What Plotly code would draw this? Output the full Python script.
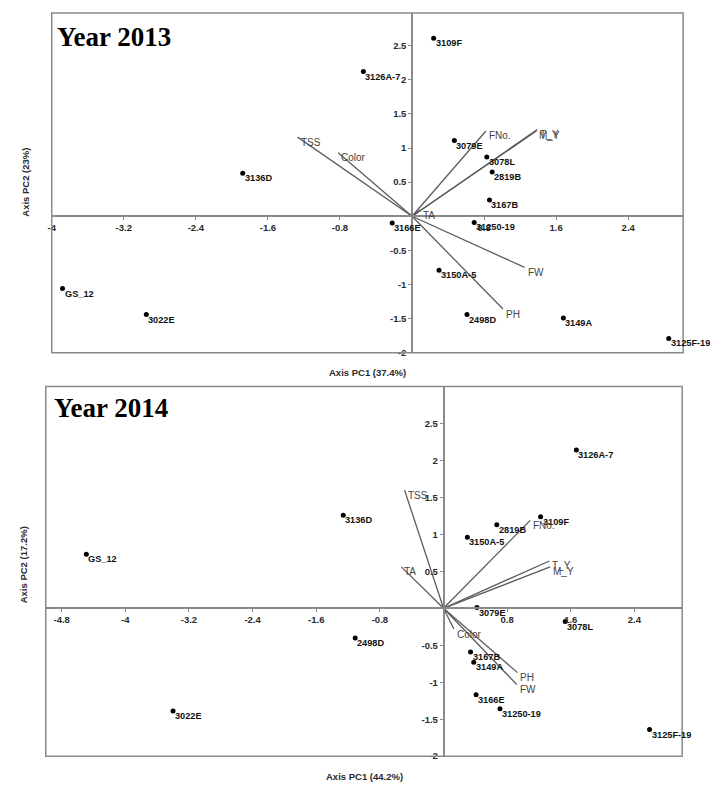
import plotly.graph_objects as go

# ---- 2013 PCA biplot data ----
samples_2013 = ["3109F", "3126A-7", "3079E", "3078L", "2819B", "3167B", "3136D", "3166E",
                "31250-19", "3150A-5", "2498D", "3149A", "3125F-19", "GS_12", "3022E"]
pc1_2013 = [0.24, -0.54, 0.47, 0.83, 0.89, 0.86, -1.88, -0.22, 0.69, 0.30, 0.61, 1.68, 2.85, -3.88, -2.95]
pc2_2013 = [2.61, 2.12, 1.11, 0.87, 0.65, 0.24, 0.63, -0.10, -0.09, -0.79, -1.44, -1.49, -1.79, -1.06, -1.44]

traits_2013 = ["TSS", "Color", "FNo.", "T_Y", "M_Y", "TA", "FW", "PH"]
load1_2013 = [-1.27, -0.82, 0.82, 1.39, 1.38, 0.09, 1.25, 1.01]
load2_2013 = [1.16, 0.93, 1.25, 1.27, 1.25, 0.09, -0.75, -1.36]

# ---- 2014 PCA biplot data ----
samples_2014 = ["3126A-7", "3109F", "2819B", "3150A-5", "3136D", "GS_12", "2498D", "3022E",
                "3079E", "3078L", "3167B", "3149A", "3166E", "31250-19", "3125F-19"]
pc1_2014 = [1.67, 1.22, 0.67, 0.30, -1.26, -4.49, -1.11, -3.40, 0.42, 1.53, 0.34, 0.38, 0.41, 0.71, 2.59]
pc2_2014 = [2.14, 1.24, 1.13, 0.96, 1.26, 0.73, -0.40, -1.39, 0.01, -0.18, -0.59, -0.73, -1.17, -1.36, -1.64]

traits_2014 = ["TSS", "TA", "FNo.", "T_Y", "M_Y", "Color", "PH", "FW"]
load1_2014 = [-0.49, -0.53, 1.09, 1.33, 1.34, 0.13, 0.93, 0.92]
load2_2014 = [1.60, 0.56, 1.19, 0.64, 0.56, -0.28, -0.87, -1.03]

# ---- tick labels ----
xticks_2013 = [-4, -3.2, -2.4, -1.6, -0.8, 0.8, 1.6, 2.4]
xticks_2014 = [-4.8, -4, -3.2, -2.4, -1.6, -0.8, 0.8, 1.6, 2.4]
yticks = [-2, -1.5, -1, -0.5, 0.5, 1, 1.5, 2, 2.5]

W, H = 710, 786


def fx(px):
    return px / W


def fy(py):
    return 1 - py / H


panels = [
    dict(xa="x", ya="y", samples=samples_2013, p1=pc1_2013, p2=pc2_2013,
         traits=traits_2013, l1=load1_2013, l2=load2_2013, xticks=xticks_2013,
         xdom=[fx(48), fx(683)], ydom=[fy(355), fy(13)], xr=[-4.0, 3.01], yr=[-2.0, 2.98],
         title="Year 2013", tpos=(51, 37),
         xtitle="Axis PC1 (37.4%)", xtpos=(366, 375),
         ytitle="Axis PC2 (23%)", ytpos=(22, 183)),
    dict(xa="x2", ya="y2", samples=samples_2014, p1=pc1_2014, p2=pc2_2014,
         traits=traits_2014, l1=load1_2014, l2=load2_2014, xticks=xticks_2014,
         xdom=[fx(42), fx(682)], ydom=[fy(761), fy(389)], xr=[-5.0, 3.0], yr=[-2.0, 3.0],
         title="Year 2014", tpos=(48, 411),
         xtitle="Axis PC1 (44.2%)", xtpos=(363, 781),
         ytitle="Axis PC2 (17.2%)", ytpos=(19, 568)),
]

fig = go.Figure()
annotations = []
shapes = []
tickfont = dict(family="Arial, Liberation Sans", size=9.5, color="#2a2a2a", weight="bold")
axis_grey = "#8a8a8a"


def fmt(v):
    return ("%g" % v)


for i, p in enumerate(panels):
    # loading vectors from the origin
    vx, vy = [], []
    for a, b in zip(p["l1"], p["l2"]):
        vx += [0, a, None]
        vy += [0, b, None]
    fig.add_trace(go.Scatter(x=vx, y=vy, mode="lines", xaxis=p["xa"], yaxis=p["ya"],
                             line=dict(color="#5c5c5c", width=1.3), hoverinfo="skip",
                             showlegend=False))
    # sample scores
    fig.add_trace(go.Scatter(x=p["p1"], y=p["p2"], mode="markers", xaxis=p["xa"], yaxis=p["ya"],
                             marker=dict(color="black", size=5), text=p["samples"],
                             showlegend=False))
    for name, a, b in zip(p["samples"], p["p1"], p["p2"]):
        annotations.append(dict(x=a, y=b, xref=p["xa"], yref=p["ya"], text=name, showarrow=False,
                                xanchor="left", yanchor="middle", xshift=0, yshift=-5,
                                font=dict(family="Arial, Liberation Sans", size=9.2,
                                          color="#111111", weight="bold")))
    for name, a, b in zip(p["traits"], p["l1"], p["l2"]):
        annotations.append(dict(x=a, y=b, xref=p["xa"], yref=p["ya"], text=name, showarrow=False,
                                xanchor="left", yanchor="middle", xshift=1, yshift=-5,
                                font=dict(family="Arial, Liberation Sans", size=10,
                                          color="#444444")))

    # axes crossing at the origin
    ypos = p["ydom"][0] + (0 - p["yr"][0]) / (p["yr"][1] - p["yr"][0]) * (p["ydom"][1] - p["ydom"][0])
    xpos = p["xdom"][0] + (0 - p["xr"][0]) / (p["xr"][1] - p["xr"][0]) * (p["xdom"][1] - p["xdom"][0])
    xkey = "xaxis" if i == 0 else "xaxis2"
    ykey = "yaxis" if i == 0 else "yaxis2"
    fig.layout[xkey] = dict(domain=p["xdom"], range=p["xr"], anchor="free", position=ypos,
                            showline=True, linecolor=axis_grey, linewidth=1.5,
                            ticks="outside", ticklen=3, tickcolor=axis_grey, tickwidth=1,
                            tickvals=p["xticks"], ticktext=[fmt(v) for v in p["xticks"]],
                            tickfont=tickfont, showgrid=False, zeroline=False, fixedrange=True)
    fig.layout[ykey] = dict(domain=p["ydom"], range=p["yr"], anchor="free", position=xpos,
                            showline=True, linecolor=axis_grey, linewidth=1.5,
                            ticks="outside", ticklen=3, tickcolor=axis_grey, tickwidth=1,
                            tickvals=yticks, ticktext=[fmt(v) for v in yticks],
                            tickfont=tickfont, showgrid=False, zeroline=False, fixedrange=True)
    # panel frame
    shapes.append(dict(type="rect", xref=p["xa"] + " domain", yref=p["ya"] + " domain",
                       x0=0, x1=1, y0=0, y1=1, line=dict(color=axis_grey, width=1.5)))
    # panel heading
    annotations.append(dict(x=fx(p["tpos"][0]), y=fy(p["tpos"][1]), xref="paper", yref="paper",
                            text="<b>" + p["title"] + "</b>", showarrow=False,
                            xanchor="left", yanchor="middle",
                            font=dict(family="Times New Roman, Liberation Serif", size=27,
                                      color="black")))
    # axis titles
    annotations.append(dict(x=fx(p["xtpos"][0]), y=fy(p["xtpos"][1]), xref="paper", yref="paper",
                            text=p["xtitle"], showarrow=False, xanchor="center", yanchor="middle",
                            font=dict(family="Arial, Liberation Sans", size=9.5,
                                      color="#2a2a2a", weight="bold")))
    annotations.append(dict(x=fx(p["ytpos"][0]), y=fy(p["ytpos"][1]), xref="paper", yref="paper",
                            text=p["ytitle"], showarrow=False, xanchor="center", yanchor="middle",
                            textangle=-90,
                            font=dict(family="Arial, Liberation Sans", size=9.5,
                                      color="#2a2a2a", weight="bold")))

fig.update_layout(width=W, height=H, margin=dict(l=0, r=0, t=0, b=0),
                  paper_bgcolor="white", plot_bgcolor="white",
                  annotations=annotations, shapes=shapes, showlegend=False)

fig.write_html("out.html")
